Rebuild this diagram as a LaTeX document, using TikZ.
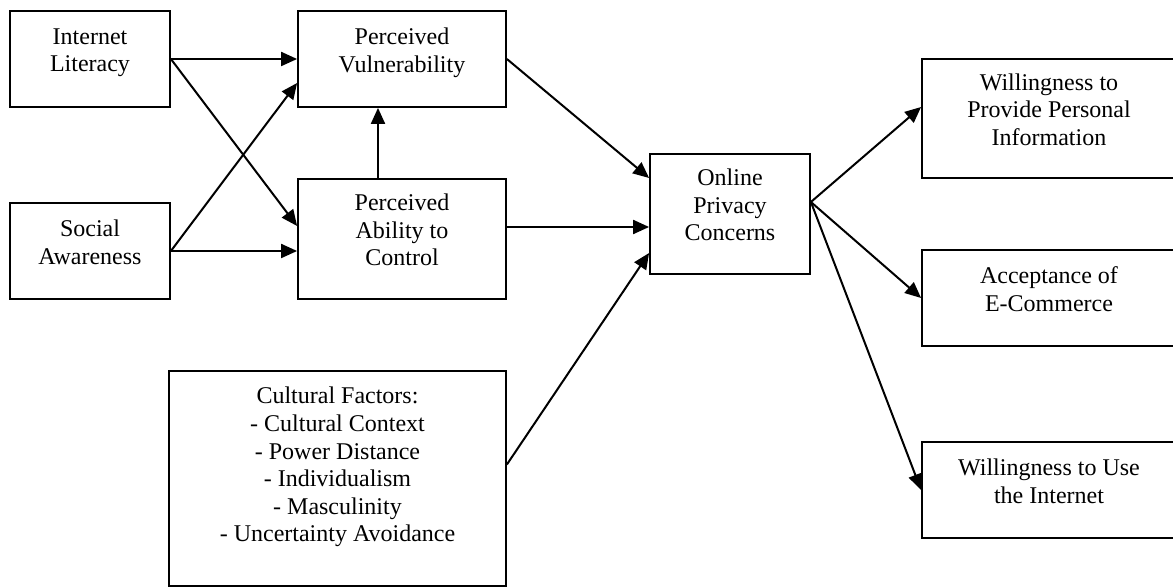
\documentclass[tikz,border=0pt]{standalone}
\usepackage{fontspec}
\setmainfont{Liberation Serif}
\usetikzlibrary{arrows.meta}

\begin{document}
\begin{tikzpicture}[x=0.5pt,y=-0.5pt,line width=1pt,
  >={Triangle[length=8pt,width=7pt]},
  box/.style={draw,line width=0.9pt,align=center,inner sep=0pt,text depth=9pt,
    font=\fontsize{12}{13.8}\selectfont},
  small/.style={box,minimum width=80pt,minimum height=48pt},
  wide/.style={box,minimum width=104pt},
  outcome/.style={box,minimum width=127pt}]
  \useasboundingbox (0,0) rectangle (1173,587);
  % antecedents
  \node[small] (il) at (90,59) {Internet\\Literacy};
  \node[small] (sa) at (90,251) {Social\\Awareness};
  \node[wide,minimum height=48pt] (pv) at (402,59) {Perceived\\Vulnerability};
  \node[wide,minimum height=60pt] (pac) at (402,239) {Perceived\\Ability to\\Control};
  \node[box,minimum width=168.5pt,minimum height=107.5pt,text depth=14pt] (cult) at (337.5,478.5)
    {Cultural Factors:\\- Cultural Context\\- Power Distance\\- Individualism\\- Masculinity\\- Uncertainty Avoidance};
  \node[box,minimum width=80pt,minimum height=60pt] (opc) at (730,214) {Online\\Privacy\\Concerns};
  % outcomes
  \node[outcome,minimum height=59.5pt] (wppi) at (1049,118.5) {Willingness to\\Provide Personal\\Information};
  \node[outcome,minimum height=48pt] (ae) at (1049,298) {Acceptance of\\E-Commerce};
  \node[outcome,minimum height=48pt] (wui) at (1049,490) {Willingness to Use\\the Internet};

  \draw[->] (il.east) -- (il.east -| pv.west);
  \draw[->] (il.east) -- ([yshift=6.5pt]pac.west);
  \draw[->] (sa.east) -- ([yshift=-12pt]pv.west);
  \draw[->] (sa.east) -- (sa.east -| pac.west);
  \draw[->] ([xshift=-12pt]pac.north) -- ([xshift=-12pt]pv.south);
  \draw[->] (pv.east) -- ([yshift=18pt]opc.west);
  \draw[->] ([yshift=6pt]pac.east) -- ([yshift=6pt]pac.east -| opc.west);
  \draw[->] ([yshift=7pt]cult.east) -- ([yshift=-19.5pt]opc.west);
  \coordinate (fan) at ([yshift=6pt]opc.east);
  \draw[->] (fan) -- ([yshift=5.75pt]wppi.west);
  \draw[->] (fan) -- (ae.west);
  \draw[->] (fan) -- (wui.west);
\end{tikzpicture}
\end{document}
